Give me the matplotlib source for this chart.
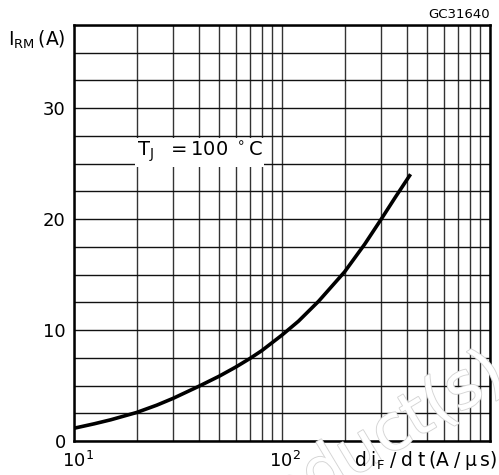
import numpy as np
import matplotlib.pyplot as plt
import matplotlib.patheffects as pe
from matplotlib.ticker import FixedLocator, NullFormatter

# curve: di/dt (A/us) -> I_RM (A)
didt = [10, 12.5, 15, 20, 25, 30, 40, 50, 60, 70, 80, 100, 120, 150, 200, 250, 300, 350, 415]
irm = [1.15, 1.55, 1.91, 2.57, 3.23, 3.85, 4.95, 5.85, 6.67, 7.43, 8.15, 9.55,
       10.8, 12.6, 15.25, 17.75, 20.0, 21.95, 24.05]

y_major = [0, 10, 20, 30]
y_grid = np.arange(0, 37.6, 2.5)
x_grid = [m * 10 ** e for e in (1, 2) for m in range(1, 10)] + [1000]

plt.rcParams["font.family"] = ["DejaVu Sans"]

fig = plt.figure(figsize=(4.99, 4.75), dpi=100)
ax = fig.add_axes([74 / 499, 34 / 475, 416 / 499, 416 / 475])

# faint outlined watermark behind the grid
fig.text(1.0, 0.225, "Obsolete Product(s)", fontsize=46, color="white",
         rotation=31, ha="right", va="center", rotation_mode="anchor", zorder=0,
         path_effects=[pe.Stroke(linewidth=1.3, foreground="#d4d4d4"), pe.Normal()])
ax.patch.set_alpha(0)

ax.set_xscale("log")
ax.set_xlim(10, 1000)
ax.set_ylim(0, 37.5)

for xv in x_grid:
    ax.axvline(xv, color="#333333", lw=1.0, zorder=1)
for yv in y_grid:
    ax.axhline(yv, color="#111111", lw=1.0, zorder=1)

ax.plot(didt, irm, color="black", lw=2.6, zorder=3, solid_capstyle="butt")

ax.xaxis.set_major_locator(FixedLocator([]))
ax.xaxis.set_minor_locator(FixedLocator([]))
ax.xaxis.set_minor_formatter(NullFormatter())
ax.set_yticks(y_major)
ax.set_yticklabels([str(v) for v in y_major], fontsize=13)
ax.tick_params(axis="y", length=0, pad=6)
for s in ax.spines.values():
    s.set_linewidth(1.8)

# x labels as text
fig.text(78 / 499, 1 - 461 / 475, r"$\mathregular{10^1}$", fontsize=13,
         ha="center", va="center")
fig.text(285 / 499, 1 - 461 / 475, r"$\mathregular{10^2}$", fontsize=13,
         ha="center", va="center")
fig.text(0.997, 1 - 461 / 475, r"$\mathregular{d\;i_F\;/\;d\;t\,(A\;/\;\mu\, s)}$",
         fontsize=13.5, ha="right", va="center")
fig.text(8 / 499, 1 - 40 / 475, r"$\mathregular{I_{RM}\,(A)}$", fontsize=13.5,
         ha="left", va="center")
fig.text(490 / 499, 1 - 14 / 475, "GC31640", fontsize=9.5, ha="right", va="center")

ax.text(20.0, 26.0, r"$\mathregular{T_J\ \ =100\ ^\circ C}$", fontsize=14,
        ha="left", va="center", zorder=4,
        bbox=dict(facecolor="white", edgecolor="none", pad=1))

fig.savefig("out.png", dpi=100)
